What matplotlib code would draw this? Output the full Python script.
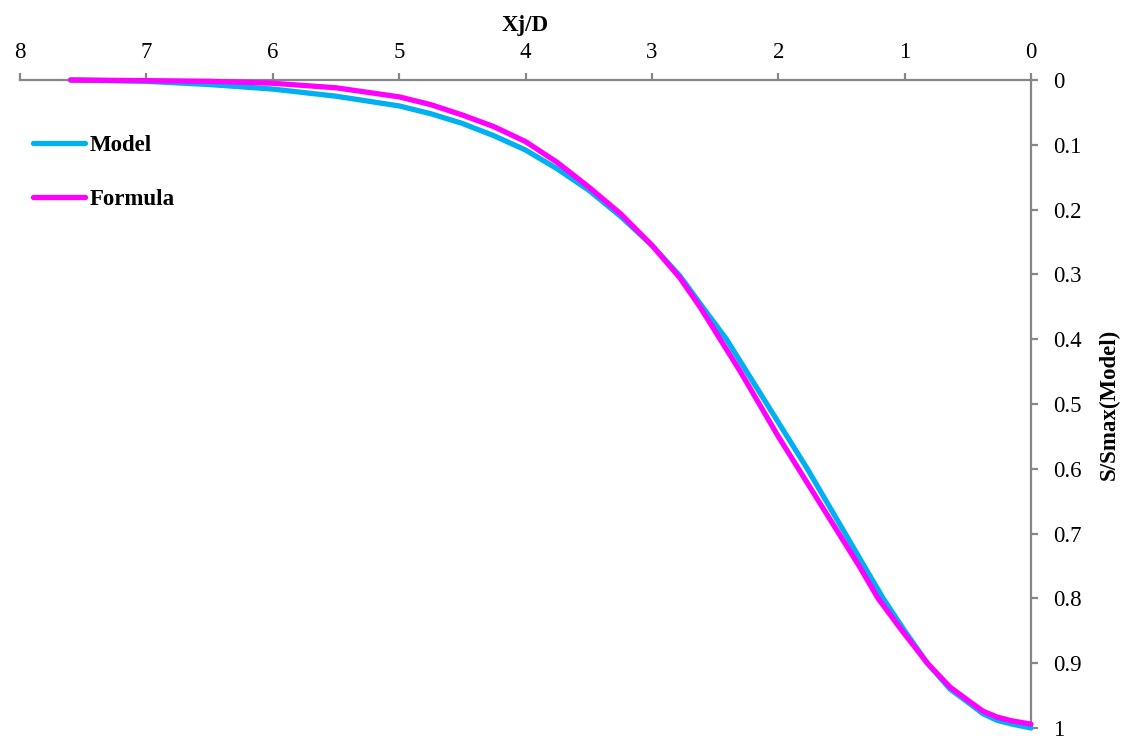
import matplotlib
matplotlib.use("Agg")
import matplotlib.pyplot as plt

# values (x = Xj/D, y = S/Smax)
model_x = [7.6, 7.0, 6.5, 6.0, 5.5, 5.0, 4.75, 4.5, 4.25, 4.0, 3.75, 3.5, 3.25, 3.0,
           2.78, 2.6, 2.41, 2.25, 2.09, 1.93, 1.77, 1.62, 1.47, 1.32, 1.17, 1.0,
           0.82, 0.64, 0.48, 0.38, 0.27, 0.15, 0.0]
model_y = [0.000, 0.002, 0.007, 0.014, 0.025, 0.040, 0.052, 0.067, 0.086, 0.108, 0.137, 0.170, 0.210, 0.255,
           0.302, 0.350, 0.400, 0.450, 0.500, 0.550, 0.600, 0.650, 0.700, 0.750, 0.800, 0.850,
           0.900, 0.940, 0.963, 0.978, 0.988, 0.994, 1.000]

formula_x = [7.6, 7.0, 6.5, 6.0, 5.5, 5.0, 4.75, 4.5, 4.25, 4.0, 3.75, 3.5, 3.25, 3.0,
             2.78, 2.62, 2.46, 2.3, 2.15, 2.0, 1.84, 1.68, 1.52, 1.36, 1.21, 1.02,
             0.82, 0.64, 0.48, 0.38, 0.27, 0.15, 0.0]
formula_y = [0.000, 0.001, 0.002, 0.005, 0.012, 0.026, 0.038, 0.054, 0.072, 0.095, 0.127, 0.165, 0.206, 0.255,
             0.305, 0.350, 0.400, 0.450, 0.500, 0.550, 0.600, 0.650, 0.700, 0.750, 0.800, 0.850,
             0.900, 0.937, 0.960, 0.974, 0.983, 0.989, 0.994]

x_ticks = [8, 7, 6, 5, 4, 3, 2, 1, 0]
y_ticks = [0, 0.1, 0.2, 0.3, 0.4, 0.5, 0.6, 0.7, 0.8, 0.9, 1]
y_labels = ["0", "0.1", "0.2", "0.3", "0.4", "0.5", "0.6", "0.7", "0.8", "0.9", "1"]

plt.rcParams["font.family"] = ["Liberation Serif", "DejaVu Serif"]
grey = "#868686"
fs = 16.5

W, H = 1127, 739
fig = plt.figure(figsize=(W / 100, H / 100), dpi=100)
ax = fig.add_axes([20 / W, (H - 728) / H, 1011 / W, 648 / H])

ax.plot(model_x, model_y, color="#00B0F0", lw=3.8, label="Model",
        solid_capstyle="round", solid_joinstyle="round", clip_on=False, zorder=3)
ax.plot(formula_x, formula_y, color="#FF00FF", lw=3.8, label="Formula",
        solid_capstyle="round", solid_joinstyle="round", clip_on=False, zorder=4)

ax.set_xlim(8, 0)
ax.set_ylim(1, 0)
ax.set_xticks(x_ticks)
ax.set_yticks(y_ticks)
ax.set_yticklabels(y_labels)

for s in ("left", "bottom"):
    ax.spines[s].set_visible(False)
for s in ("top", "right"):
    ax.spines[s].set_color(grey)
    ax.spines[s].set_linewidth(1.6)

ax.xaxis.tick_top()
ax.yaxis.tick_right()
ax.tick_params(axis="x", direction="out", length=5, width=1.6, color=grey,
               labelsize=fs, pad=7)
ax.tick_params(axis="y", direction="out", length=5, width=1.6, color=grey,
               labelsize=fs, pad=11)

ax.xaxis.set_label_position("top")
ax.yaxis.set_label_position("right")
ax.set_xlabel("Xj/D", fontsize=fs, fontweight="bold", labelpad=8)
ax.set_ylabel("S/Smax(Model)", fontsize=fs, fontweight="bold", labelpad=12)

leg = ax.legend(loc="upper left", bbox_to_anchor=(33 / W, (H - 135) / H),
                bbox_transform=fig.transFigure, frameon=False,
                prop={"weight": "bold", "size": fs},
                handlelength=2.27, handletextpad=0.22, labelspacing=1.42,
                borderpad=0, borderaxespad=0)

fig.savefig("out.png", dpi=100)
